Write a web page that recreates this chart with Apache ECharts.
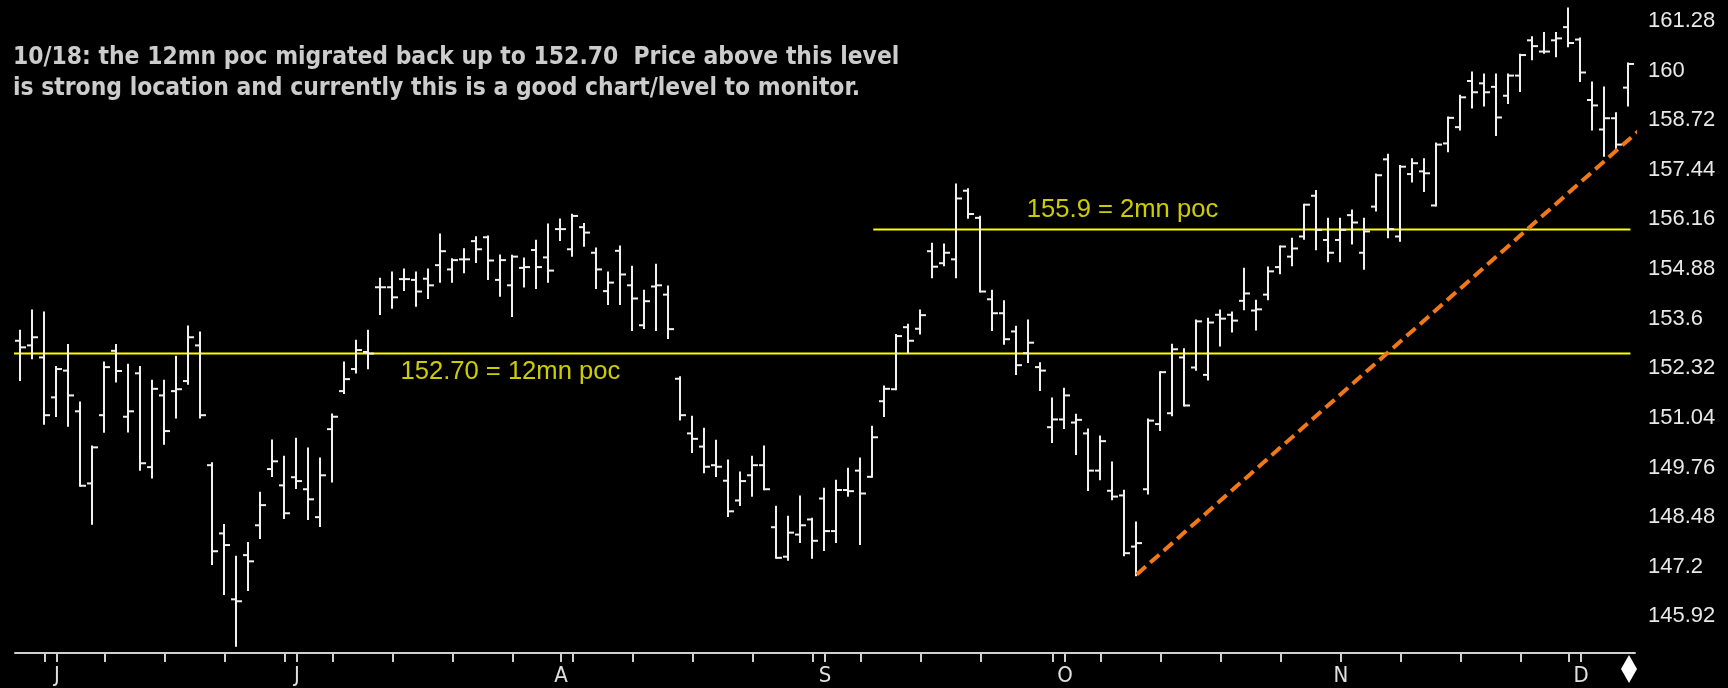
<!DOCTYPE html>
<html>
<head>
<meta charset="utf-8">
<title>12mn poc</title>
<script src="https://cdn.jsdelivr.net/npm/echarts@6/dist/echarts.min.js"></script>
<style>
  html, body { margin: 0; padding: 0; background: #000; }
  #chart { width: 1728px; height: 688px; }
</style>
</head>
<body>
<div id="chart"></div>
<script>
// daily bars, early June to early December
var openVals = [
  153.03, 152.91, 152.60, 151.57, 152.26, 151.21, 149.35, 151.11, 152.77, 151.07,
  152.19, 149.77, 151.62, 151.73, 151.99, 152.91, 149.82, 148.06, 146.36, 147.50,
  148.27, 149.72, 149.30, 149.51, 149.20, 148.48, 150.75, 151.73, 152.30, 152.74,
  154.41, 154.41, 154.62, 154.60, 154.63, 154.98, 154.87, 155.13, 155.60, 155.70,
  154.60, 154.46, 154.91, 155.37, 155.18, 155.91, 155.39, 155.96, 155.30, 154.31,
  155.35, 154.46, 153.43, 154.43, 154.22, 152.05, 150.64, 150.30, 149.82, 149.42,
  148.91, 149.56, 149.82, 148.22, 147.46, 148.03, 148.42, 148.96, 148.12, 149.18,
  149.68, 149.52, 151.47, 151.78, 153.38, 153.34, 155.34, 155.03, 155.13, 156.90,
  156.20, 154.10, 153.74, 153.27, 152.71, 152.35, 150.80, 151.00, 150.92, 150.64,
  149.68, 149.16, 149.04, 147.72, 149.20, 150.88, 151.16, 152.60, 152.34, 152.15,
  153.70, 153.70, 154.06, 153.81, 154.22, 154.93, 155.20, 155.72, 156.77, 155.63,
  155.63, 156.27, 155.30, 156.49, 157.71, 155.72, 157.33, 157.40, 156.52, 158.12,
  158.54, 159.73, 159.67, 159.58, 159.35, 159.87, 160.78, 160.49, 160.78, 161.12,
  160.80, 159.24, 158.48, 158.77, 159.56
];
var highVals = [
  153.29, 153.81, 153.76, 152.35, 152.92, 151.44, 150.30, 152.47, 152.92, 152.41,
  152.35, 152.00, 152.00, 152.62, 153.40, 153.24, 149.87, 148.28, 147.46, 147.81,
  149.11, 150.46, 150.04, 150.50, 150.25, 149.99, 151.13, 152.47, 153.03, 153.29,
  154.63, 154.79, 154.87, 154.79, 154.87, 155.77, 155.13, 155.39, 155.70, 155.72,
  155.23, 155.22, 155.15, 155.61, 156.03, 156.16, 156.28, 156.04, 155.41, 154.79,
  155.46, 154.94, 154.32, 154.99, 154.43, 152.09, 151.07, 150.76, 150.45, 149.94,
  149.63, 150.04, 150.30, 148.75, 148.49, 149.01, 148.44, 149.21, 149.42, 149.73,
  149.99, 150.81, 151.85, 153.18, 153.44, 153.81, 155.53, 155.51, 157.06, 156.94,
  156.23, 154.32, 154.05, 153.39, 153.55, 152.45, 151.54, 151.79, 151.12, 150.74,
  150.56, 149.89, 149.16, 148.34, 151.00, 152.22, 152.93, 152.81, 153.55, 153.60,
  153.81, 153.76, 154.89, 154.06, 154.92, 155.46, 155.66, 156.54, 156.89, 156.18,
  156.18, 156.39, 156.18, 157.32, 157.83, 157.54, 157.71, 157.71, 158.12, 158.79,
  159.35, 159.95, 159.90, 159.90, 159.90, 160.41, 160.86, 160.97, 160.97, 161.60,
  160.83, 159.69, 159.56, 158.90, 160.18
];
var lowVals = [
  152.02, 152.58, 150.89, 151.09, 150.84, 149.29, 148.31, 150.68, 151.98, 150.69,
  149.70, 149.50, 150.37, 151.05, 151.92, 151.05, 147.27, 146.50, 145.16, 146.60,
  147.94, 149.54, 148.46, 149.23, 148.43, 148.25, 149.40, 151.68, 152.21, 152.32,
  153.72, 153.88, 154.34, 153.93, 154.13, 154.55, 154.55, 154.80, 155.06, 154.62,
  154.19, 153.67, 154.43, 154.39, 154.55, 155.63, 155.22, 155.48, 154.39, 153.98,
  153.98, 153.31, 153.36, 153.31, 153.10, 151.00, 150.16, 149.64, 149.54, 148.51,
  148.79, 149.03, 149.20, 147.43, 147.38, 147.84, 147.43, 147.63, 147.84, 149.03,
  147.79, 149.52, 151.09, 151.78, 152.74, 153.22, 154.67, 154.98, 154.67, 156.20,
  154.30, 153.31, 152.95, 152.17, 152.48, 151.76, 150.42, 150.78, 150.11, 149.18,
  149.46, 148.94, 147.50, 146.98, 149.09, 150.73, 151.11, 151.36, 152.28, 152.03,
  152.91, 153.27, 153.84, 153.32, 154.10, 154.77, 154.98, 155.66, 155.39, 155.08,
  155.08, 155.54, 154.89, 156.39, 155.70, 155.61, 157.14, 156.89, 156.52, 157.92,
  158.48, 159.05, 159.10, 158.34, 159.16, 159.47, 160.29, 160.46, 160.37, 160.63,
  159.73, 158.48, 157.80, 157.97, 159.10
];
var closeVals = [
  152.86, 153.12, 151.11, 152.30, 151.62, 149.29, 150.28, 152.35, 152.25, 151.21,
  149.87, 151.79, 150.70, 151.78, 153.12, 151.11, 147.60, 147.76, 146.31, 147.34,
  148.79, 149.92, 148.58, 149.41, 148.94, 149.56, 151.07, 152.04, 152.79, 152.70,
  154.41, 154.15, 154.62, 154.30, 154.46, 155.34, 155.11, 155.13, 155.39, 155.10,
  155.11, 155.20, 154.93, 154.93, 154.84, 155.91, 156.25, 155.82, 154.87, 154.53,
  154.74, 154.12, 154.05, 154.46, 153.33, 151.11, 150.50, 149.78, 149.78, 148.63,
  149.41, 149.82, 149.20, 147.43, 148.08, 148.27, 147.87, 148.12, 149.18, 149.15,
  149.09, 150.54, 151.79, 153.15, 153.03, 153.69, 154.94, 155.30, 156.70, 156.30,
  154.30, 153.74, 153.07, 152.40, 152.98, 152.26, 151.00, 151.62, 150.99, 149.68,
  150.44, 149.01, 147.55, 147.81, 150.97, 152.22, 152.81, 151.36, 153.53, 153.50,
  153.60, 153.55, 154.25, 153.84, 154.82, 155.46, 155.41, 156.54, 155.89, 155.30,
  155.89, 156.08, 155.85, 157.30, 155.91, 157.52, 157.61, 157.35, 158.09, 158.78,
  159.31, 159.44, 159.44, 158.79, 159.87, 160.40, 160.63, 160.49, 160.83, 160.71,
  159.95, 159.10, 158.77, 158.09, 160.17
];

// month letters sit on the first bar of each month
var monthStarts = [3, 23, 45, 67, 87, 110, 130];
var monthLabels = ['J', 'J', 'A', 'S', 'O', 'N', 'D'];
var weekTicks = [2, 7, 12, 17, 22, 26, 31, 36, 41, 46, 51, 56, 61, 66, 70, 75, 80, 86, 90,
  95, 100, 105, 115, 120, 125, 129];

// price axis: 1.28 steps
var yMin = 144.64, yMax = 161.82, yStep = 1.28;

// volume point of control levels (bar index where each line starts)
var pocLevels = [152.70, 155.9];
var pocStart = [-0.6, 71.1];
var pocEnd = 134.2;
var pocNames = ['152.70 = 12mn poc', '155.9 = 2mn poc'];

// rising trendline from the October low
var trendFrom = [93.06, 147.0];
var trendTo = [134.83, 158.43];

var noteLines = [
  '10/18: the 12mn poc migrated back up to 152.70  Price above this level',
  'is strong location and currently this is a good chart/level to monitor.'
];

var narrow = '"DejaVu Sans Condensed", "Liberation Sans Narrow", sans-serif';
var plain = '"Liberation Sans", Arial, sans-serif';

var dayIdx = openVals.map(function (v, i) { return i; });
var tickSet = {};
weekTicks.concat(monthStarts).forEach(function (t) { tickSet[t] = true; });

var ohlc = openVals.map(function (o, i) {
  return [i, o, closeVals[i], lowVals[i], highVals[i]];
});

function renderBar(params, api) {
  var i = api.value(0);
  var o = api.coord([i, api.value(1)]);
  var c = api.coord([i, api.value(2)]);
  var l = api.coord([i, api.value(3)]);
  var h = api.coord([i, api.value(4)]);
  var x = Math.round(h[0]);
  var st = { stroke: '#f0f0f0', lineWidth: 2 };
  return {
    type: 'group',
    children: [
      { type: 'line', shape: { x1: x, y1: h[1] - 1, x2: x, y2: l[1] + 1 }, style: st },
      { type: 'line', shape: { x1: x - 5, y1: o[1], x2: x, y2: o[1] }, style: st },
      { type: 'line', shape: { x1: x, y1: c[1], x2: x + 6, y2: c[1] }, style: st }
    ]
  };
}

var chart = echarts.init(document.getElementById('chart'));

var series = [{
  name: 'bars',
  type: 'custom',
  renderItem: renderBar,
  xAxisIndex: 0,
  encode: { x: 0, y: [1, 2, 3, 4] },
  data: ohlc,
  z: 3
}];

pocLevels.forEach(function (lv, k) {
  series.push({
    name: pocNames[k],
    type: 'line',
    xAxisIndex: 0,
    data: [[pocStart[k], lv], [pocEnd, lv]],
    symbol: 'none',
    clip: false,
    silent: true,
    lineStyle: { color: '#ffff00', width: 2 },
    z: 2
  });
});

series.push({
  name: 'trend',
  type: 'line',
  xAxisIndex: 0,
  data: [trendFrom, trendTo],
  symbol: 'none',
  clip: false,
  silent: true,
  lineStyle: { color: '#f07818', width: 4, type: [12, 6] },
  z: 4
});

// the two level captions
series.push({
  name: 'captions',
  type: 'scatter',
  xAxisIndex: 0,
  symbolSize: 0,
  silent: true,
  data: [
    { value: [31.7, 152.23], name: pocNames[0] },
    { value: [83.9, 156.41], name: pocNames[1] }
  ],
  label: {
    show: true,
    position: 'right',
    distance: 0,
    formatter: '{b}',
    color: '#ffff00',
    fontSize: 25.6,
    fontFamily: plain
  },
  z: 5
});

chart.setOption({
  backgroundColor: '#000000',
  animation: false,
  grid: { left: 15, right: 93, top: 0, bottom: 22, containLabel: false },
  xAxis: [{
    type: 'value',
    min: -0.42,
    max: 134.58,
    show: false
  }, {
    type: 'category',
    data: dayIdx,
    position: 'bottom',
    offset: -13,
    boundaryGap: true,
    axisLine: { show: true, lineStyle: { color: '#d0d0d0', width: 2 } },
    axisTick: {
      show: true,
      alignWithLabel: true,
      length: 9,
      interval: function (idx) { return !!tickSet[idx]; },
      lineStyle: { color: '#d0d0d0', width: 2 }
    },
    axisLabel: {
      interval: function (idx) { return monthStarts.indexOf(idx) >= 0; },
      formatter: function (v, idx) {
        var k = monthStarts.indexOf(Number(v));
        return k >= 0 ? monthLabels[k] : '';
      },
      color: '#e0e0e0',
      fontSize: 22,
      fontFamily: narrow,
      margin: 12
    },
    splitLine: { show: false }
  }],
  yAxis: {
    type: 'value',
    position: 'right',
    min: yMin,
    max: yMax,
    interval: yStep,
    scale: true,
    axisLine: { show: false },
    axisTick: { show: false },
    splitLine: { show: false },
    axisLabel: {
      showMinLabel: false,
      showMaxLabel: false,
      margin: 13,
      color: '#e8e8e8',
      fontSize: 22,
      fontFamily: plain
    }
  },
  graphic: [{
    type: 'text',
    left: 13,
    top: 42,
    silent: true,
    style: {
      text: noteLines.join('\n'),
      fill: '#cccccc',
      fontSize: 24.4,
      fontWeight: 'bold',
      fontFamily: narrow,
      lineHeight: 31
    }
  }, {
    type: 'polygon',
    right: 91,
    bottom: 5,
    silent: true,
    shape: { points: [[8, 0], [16, 14], [8, 28], [0, 14]] },
    style: { fill: '#ffffff' }
  }],
  series: series
});
</script>
</body>
</html>
